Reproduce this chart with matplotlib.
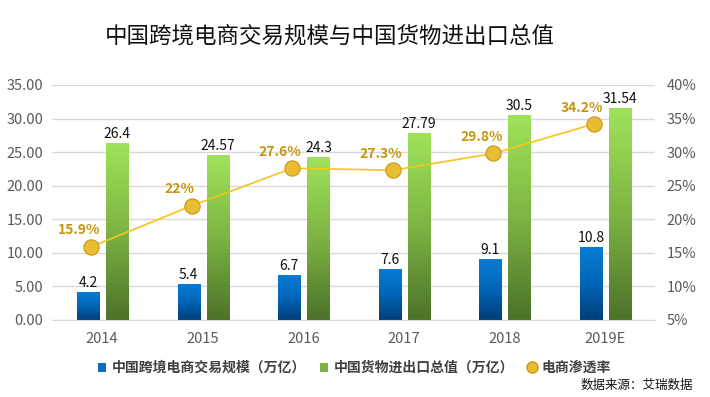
import numpy as np
import matplotlib
matplotlib.use("Agg")
from matplotlib import pyplot as plt
from matplotlib.colors import LinearSegmentedColormap
from matplotlib.lines import Line2D
from matplotlib.patches import Patch

plt.rcParams['font.family'] = ['Noto Sans CJK SC', 'DejaVu Sans']

years = ["2014", "2015", "2016", "2017", "2018", "2019E"]
cross_border = [4.2, 5.4, 6.7, 7.6, 9.1, 10.8]
trade_total = [26.4, 24.57, 24.3, 27.79, 30.5, 31.54]
penetration = [15.9, 22.0, 27.6, 27.3, 29.8, 34.2]
pen_labels = ["15.9%", "22%", "27.6%", "27.3%", "29.8%", "34.2%"]

blue_cmap = LinearSegmentedColormap.from_list("b", ["#003E78", "#0066B8", "#0A7CD6"])
green_cmap = LinearSegmentedColormap.from_list("g", ["#4C7229", "#7DB443", "#A0E35B"])


def gradient_bars(ax, xs, heights, width, cmap):
    bars = ax.bar(xs, heights, width=width, color="none", zorder=2)
    grad = np.linspace(0, 1, 256).reshape(-1, 1)
    for b in bars:
        x0, y0 = b.get_x(), b.get_y()
        w, h = b.get_width(), b.get_height()
        im = ax.imshow(grad, cmap=cmap, origin="lower", aspect="auto",
                       extent=[x0, x0 + w, y0, y0 + h], zorder=2)
        im.set_clip_path(b)
    return bars


fig = plt.figure(figsize=(7.1, 3.97), dpi=100, facecolor="w")
ax = fig.add_axes([0.073, 0.194, 0.85, 0.592])
ax2 = ax.twinx()

x = np.arange(len(years))
bw = 0.22
gradient_bars(ax, x - 0.14, cross_border, bw, blue_cmap)
gradient_bars(ax, x + 0.15, trade_total, bw, green_cmap)

for xi, v in zip(x, cross_border):
    ax.text(xi - 0.14, v + 0.3, f"{v:g}", ha="center", va="bottom", fontsize=10, color="#111111")
for xi, v in zip(x, trade_total):
    ax.text(xi + 0.15, v + 0.3, f"{v:g}", ha="center", va="bottom", fontsize=10, color="#111111")

ax.set_xlim(-0.5, len(years) - 0.5)
ax.set_ylim(0, 35)
ax.set_yticks(np.arange(0, 36, 5))
ax.set_yticklabels([f"{t:.2f}" for t in np.arange(0, 36, 5)])
ax.set_xticks(x)
ax.set_xticklabels(years)
ax.grid(axis="y", color="#D9D9D9", linewidth=1, zorder=0)
ax.set_axisbelow(True)
for s in ["top", "left", "right"]:
    ax.spines[s].set_visible(False)
ax.spines["bottom"].set_color("#D9D9D9")
ax.tick_params(axis="y", length=0, labelsize=10.5, colors="#595959", pad=6)
ax.tick_params(axis="x", length=0, labelsize=10.5, colors="#595959", pad=9)

xl = x - 0.11
ax2.plot(xl, penetration, color="#F5C518", linewidth=1.2, zorder=3,
         marker="o", markersize=11, markerfacecolor="#E9BC32",
         markeredgecolor="#C9981C", markeredgewidth=0.8)
for xi, v, lab in zip(xl, penetration, pen_labels):
    ax2.text(xi - 0.12, v + 1.4, lab, ha="center", va="bottom", fontsize=10,
             fontweight="bold", color="#C8960E")
ax2.set_ylim(5, 40)
ax2.set_yticks(np.arange(5, 41, 5))
ax2.set_yticklabels([f"{t}%" for t in range(5, 41, 5)])
for s in ax2.spines.values():
    s.set_visible(False)
ax2.tick_params(axis="y", length=0, labelsize=10.5, colors="#595959", pad=8)

fig.text(0.465, 0.908, "中国跨境电商交易规模与中国货物进出口总值", ha="center", va="center",
         fontsize=16.2, color="#111111")

handles = [Patch(facecolor="#0A6FC2"), Patch(facecolor="#7DB443"),
           Line2D([], [], marker="o", linestyle="none", markersize=8,
                  markerfacecolor="#E9BC32", markeredgecolor="#C9981C")]
labels = ["中国跨境电商交易规模（万亿）", "中国货物进出口总值（万亿）", "电商渗透率"]
leg = fig.legend(handles, labels, loc="center", bbox_to_anchor=(0.499, 0.073), ncol=3,
                 frameon=False, handlelength=0.6, handleheight=0.6, handletextpad=0.4,
                 columnspacing=1.0, prop={"size": 10, "weight": "bold"})
for t in leg.get_texts():
    t.set_color("#404040")

fig.text(0.976, 0.030, "数据来源：艾瑞数据", ha="right", va="center", fontsize=9, color="#111111")

fig.savefig("out.png", dpi=100)
